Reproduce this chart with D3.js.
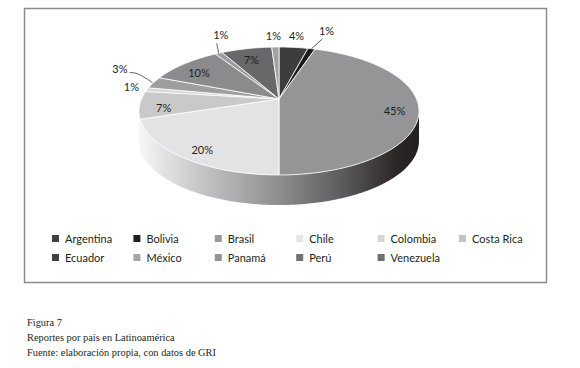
<!DOCTYPE html>
<html>
<head>
<meta charset="utf-8">
<script src="https://cdn.jsdelivr.net/npm/d3@7"></script>
<style>
  body { margin: 0; background: #fff; }
  svg { display: block; }
</style>
</head>
<body>
<div id="chart"></div>
<script>
// Reportes por país en Latinoamérica (Figura 7)

const countries = ['Argentina', 'Bolivia', 'Brasil', 'Chile', 'Colombia', 'Costa Rica',
    'Ecuador', 'México', 'Panamá', 'Perú', 'Venezuela'];
const values = [4, 1, 45, 20, 7, 1, 3, 10, 1, 7, 1];
// the printed pie and its legend do not use the same greys
const sliceColors = ['#3d3c3e', '#1f1b1c', '#959597', '#e3e3e5', '#c9c9cb', '#d6d6d8',
    '#9e9ea0', '#8b8b8d', '#9c9c9e', '#68686a', '#a2a2a4'];
const legendColors = ['#414143', '#231f20', '#9a9a9c', '#e6e6e8', '#d6d6d8', '#c4c4c6',
    '#404042', '#a6a6a8', '#949496', '#737375', '#707072'];
const captionLines = ['Figura 7', 'Reportes por país en Latinoamérica',
    'Fuente: elaboración propia, con datos de GRI'];

// hand placement of the small outside labels (offset from the rim point)
const outsideLabels = {
    'Argentina':  { dx: 3,   dy: -8,  anchor: 'middle' },
    'Bolivia':    { dx: 15,  dy: -15, anchor: 'middle', leader: true },
    'Costa Rica': { dx: -8,  dy: 0,   anchor: 'end' },
    'Ecuador':    { dx: -26, dy: -11, anchor: 'end', leader: true },
    'Panamá':     { dx: 2,   dy: -15, anchor: 'middle', leader: true },
    'Venezuela':  { dx: -2,  dy: -8,  anchor: 'middle' }
};

const width = 580, height = 368;

const svg = d3.select('#chart').append('svg')
    .attr('width', width)
    .attr('height', height);

// frame
svg.append('rect')
    .attr('x', 24.5).attr('y', 8.5)
    .attr('width', 522).attr('height', 274)
    .attr('fill', 'none')
    .attr('stroke', '#8c8c8c')
    .attr('stroke-width', 1.5);

// perspective disk -> screen (homography of the unit circle)
const apex = { x: 279, y: 99 };
const k = 0.1875, A = 137.5, B = 61.75, depth = 30;
function project(r, theta, dy = 0) {
    const u = r * Math.sin(theta), v = -r * Math.cos(theta);
    const w = 1 - k * v;
    return [apex.x + A * u / w, apex.y + B * v / w + dy];
}
function arcPoints(a0, a1, dy = 0) {
    const n = Math.max(2, Math.ceil((a1 - a0) / 0.02));
    return d3.range(n + 1).map(i => project(1, a0 + (a1 - a0) * i / n, dy));
}

const arcs = d3.pie().sort(null).value(d => d)(values);
const line = d3.line();

// side wall gradient
const defs = svg.append('defs');
const thetaR = Math.acos(-k), thetaL = 2 * Math.PI - thetaR;
const xL = project(1, thetaL)[0], xR = project(1, thetaR)[0];
const grad = defs.append('linearGradient')
    .attr('id', 'side')
    .attr('gradientUnits', 'userSpaceOnUse')
    .attr('x1', xL).attr('x2', xR).attr('y1', 0).attr('y2', 0);
[[0, '#f6f6f6'], [0.22, '#c6c6c8'], [0.5, '#8e8e90'], [0.75, '#565557'], [0.92, '#2b2626'], [1, '#231f20']]
    .forEach(([o, c]) => grad.append('stop').attr('offset', o).attr('stop-color', c));

const front = arcPoints(thetaR, thetaL);
const back = arcPoints(thetaR, thetaL, depth).reverse();
svg.append('path')
    .attr('d', line(front.concat(back)) + 'Z')
    .attr('fill', 'url(#side)');

// top face slices
svg.append('g').attr('class', 'slices')
    .selectAll('path')
    .data(arcs)
    .join('path')
    .attr('d', d => line([[apex.x, apex.y]].concat(arcPoints(d.startAngle, d.endAngle))) + 'Z')
    .attr('fill', (d, i) => sliceColors[i])
    .attr('stroke', '#fff')
    .attr('stroke-width', 0.8)
    .attr('stroke-linejoin', 'round');

// percentage labels
const labels = svg.append('g')
    .style('font-family', 'Lato, "Open Sans", sans-serif')
    .style('font-size', '11px')
    .style('fill', '#231f20');

arcs.forEach((d, i) => {
    const mid = (d.startAngle + d.endAngle) / 2;
    const txt = values[i] + '%';
    const o = outsideLabels[countries[i]];
    if (!o) {
        // inner labels sit a little below the flat centroid (perspective)
        const [x, y] = project(0.83, mid, 4);
        labels.append('text')
            .attr('x', x).attr('y', y)
            .attr('dy', '0.35em')
            .attr('text-anchor', 'middle')
            .text(txt);
        return;
    }
    const [x0, y0] = project(1, mid);
    const x1 = x0 + o.dx, y1 = y0 + o.dy;
    if (o.leader) {
        const pts = o.anchor === 'end'
            ? [[x0 - 1, y0], [x1 + 10, y1 + 1], [x1 + 2, y1 + 1]]
            : [[x0, y0], [x1 - 4 * Math.sign(o.dx), y1 + 5]];
        labels.append('path')
            .attr('d', d3.line().curve(d3.curveBasis)(pts))
            .attr('fill', 'none')
            .attr('stroke', '#231f20')
            .attr('stroke-width', 0.7);
    }
    labels.append('text')
        .attr('x', x1).attr('y', y1)
        .attr('dy', '0.1em')
        .attr('text-anchor', o.anchor)
        .text(txt);
});

// legend
const legend = svg.append('g')
    .style('font-family', 'Lato, "Open Sans", sans-serif')
    .style('font-size', '11px')
    .style('fill', '#231f20');
const colX = d3.scaleLinear().domain([0, 5]).range([52, 459]);
const items = legend.selectAll('g')
    .data(countries)
    .join('g')
    .attr('transform', (d, i) => `translate(${colX(i % 6)},${239 + Math.floor(i / 6) * 19})`);
items.append('rect')
    .attr('x', 0).attr('y', -4)
    .attr('width', 7).attr('height', 7)
    .attr('fill', (d, i) => legendColors[i]);
items.append('text')
    .attr('x', 13)
    .attr('dy', '0.35em')
    .text(d => d);

// caption
svg.append('g')
    .style('font-family', '"Liberation Serif", "DejaVu Serif", serif')
    .style('font-size', '10.4px')
    .style('fill', '#231f20')
    .selectAll('text')
    .data(captionLines)
    .join('text')
    .attr('x', 27)
    .attr('y', (d, i) => 326 + i * 15)
    .text(d => d);
</script>
</body>
</html>
